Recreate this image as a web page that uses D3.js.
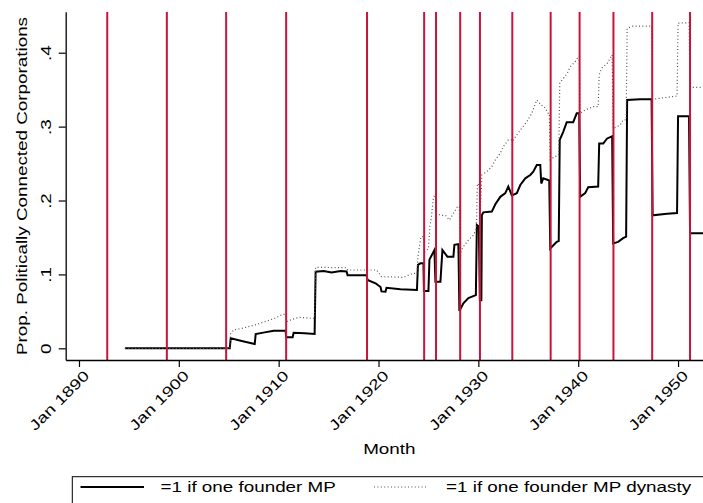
<!DOCTYPE html>
<html>
<head>
<meta charset="utf-8">
<script src="https://cdn.jsdelivr.net/npm/d3@7"></script>
<style>
  html, body { margin: 0; padding: 0; background: #fff; }
  svg { display: block; font-family: "Liberation Sans", Arial, Helvetica, sans-serif; }
</style>
</head>
<body>
<svg id="chart" width="703" height="503"></svg>
<script>
// Axis ticks
const yearTicks = [1890, 1900, 1910, 1920, 1930, 1940, 1950];
const yTicks = [0, 0.1, 0.2, 0.3, 0.4];
const yTickLabels = ["0", ".1", ".2", ".3", ".4"];

// Months (as fractional years) marked with vertical reference lines
const eventMonths = [1892.83, 1898.8, 1904.74, 1910.75, 1918.85, 1924.57, 1925.76,
  1928.18, 1930.16, 1933.4, 1937.24, 1940.14, 1943.53, 1947.41, 1951.2];

// Share of corporations with one founder who is an MP
const founderMP = [
  [1894.6, 0], [1905.1, 0], [1905.2, 0.0135], [1906.3, 0.0099], [1907.6, 0.0058],
  [1907.7, 0.0194], [1908.6, 0.0216], [1909.5, 0.0238], [1910.7, 0.0238], [1910.75, 0.0149],
  [1911.4, 0.0149], [1911.5, 0.0211], [1912.6, 0.0203], [1913.6, 0.0194], [1913.7, 0.1037],
  [1914.5, 0.1045], [1915.3, 0.1025], [1916.2, 0.1045], [1916.8, 0.104], [1916.9, 0.099],
  [1918.8, 0.099], [1918.9, 0.0925], [1919.7, 0.088], [1920.2, 0.083], [1920.3, 0.077],
  [1920.7, 0.0766], [1920.8, 0.082], [1922.2, 0.08], [1923.85, 0.079], [1923.95, 0.113],
  [1924.2, 0.115], [1924.5, 0.115], [1924.55, 0.0775], [1925.0, 0.0775], [1925.1, 0.12],
  [1925.6, 0.133], [1925.7, 0.09], [1926.2, 0.09], [1926.4, 0.133], [1926.9, 0.124],
  [1927.5, 0.124], [1927.6, 0.14], [1928.0, 0.141], [1928.1, 0.0505], [1928.5, 0.061],
  [1929.0, 0.068], [1929.75, 0.072], [1929.85, 0.167], [1930.05, 0.165], [1930.15, 0.065],
  [1930.3, 0.065], [1930.35, 0.18], [1930.5, 0.184], [1931.35, 0.185], [1931.7, 0.195],
  [1932.2, 0.205], [1932.7, 0.21], [1933.0, 0.219], [1933.35, 0.207], [1933.85, 0.21],
  [1934.2, 0.221], [1934.7, 0.23], [1935.2, 0.2345], [1935.5, 0.239], [1935.85, 0.248],
  [1936.2, 0.248], [1936.3, 0.223], [1936.5, 0.23], [1937.1, 0.227], [1937.2, 0.135],
  [1937.85, 0.144], [1938.05, 0.145], [1938.15, 0.282], [1938.5, 0.293], [1938.85, 0.306],
  [1939.5, 0.306], [1939.85, 0.318], [1940.1, 0.318], [1940.2, 0.205], [1940.7, 0.21],
  [1941.0, 0.218], [1942.0, 0.219], [1942.1, 0.277], [1942.5, 0.277], [1942.9, 0.284],
  [1943.4, 0.287], [1943.5, 0.142], [1944.0, 0.144], [1944.5, 0.149], [1944.8, 0.151],
  [1944.9, 0.336], [1946.2, 0.337], [1947.35, 0.337], [1947.45, 0.18], [1948.9, 0.182],
  [1949.9, 0.183], [1950.0, 0.314], [1951.1, 0.314], [1951.2, 0.1556], [1953.4, 0.1556]
];

// Share of corporations with one founder from an MP dynasty
const founderDynasty = [
  [1894.6, 0], [1905.1, 0], [1905.2, 0.02], [1905.5, 0.025], [1906.3, 0.027],
  [1907.6, 0.0315], [1908.6, 0.036], [1909.6, 0.0406], [1910.4, 0.046], [1910.7, 0.046],
  [1910.75, 0.036], [1911.3, 0.039], [1912.1, 0.042], [1913.3, 0.0406], [1913.6, 0.0406],
  [1913.7, 0.1096], [1916.8, 0.109], [1916.9, 0.106], [1919.8, 0.106], [1920.3, 0.097],
  [1922.5, 0.096], [1923.0, 0.099], [1923.5, 0.1015], [1923.85, 0.1015], [1923.95, 0.124],
  [1924.1, 0.138], [1924.25, 0.151], [1924.5, 0.151], [1924.6, 0.13], [1925.0, 0.135],
  [1925.15, 0.165], [1925.3, 0.178], [1925.5, 0.205], [1925.7, 0.2075], [1925.75, 0.183],
  [1926.2, 0.18], [1926.7, 0.18], [1927.1, 0.1736], [1927.6, 0.185], [1927.9, 0.1916],
  [1928.1, 0.192], [1928.2, 0.124], [1928.3, 0.133], [1928.5, 0.1375], [1929.0, 0.1465],
  [1929.5, 0.153], [1929.8, 0.162], [1929.9, 0.223], [1930.1, 0.22], [1930.2, 0.187],
  [1930.35, 0.2346], [1930.85, 0.239], [1931.35, 0.246], [1931.7, 0.255], [1932.2, 0.264],
  [1932.5, 0.273], [1933.0, 0.282], [1933.3, 0.282], [1933.4, 0.28], [1933.85, 0.289],
  [1934.35, 0.298], [1934.85, 0.3066], [1935.35, 0.318], [1935.85, 0.336], [1936.3, 0.329],
  [1936.6, 0.327], [1937.0, 0.318], [1937.1, 0.318], [1937.2, 0.255], [1937.6, 0.259],
  [1938.05, 0.2616], [1938.15, 0.3586], [1938.5, 0.365], [1938.9, 0.372], [1939.2, 0.381],
  [1939.7, 0.388], [1940.0, 0.3946], [1940.1, 0.3946], [1940.2, 0.318], [1940.7, 0.3225],
  [1941.5, 0.327], [1942.0, 0.327], [1942.1, 0.37], [1942.35, 0.379], [1942.9, 0.3857],
  [1943.2, 0.3924], [1943.4, 0.397], [1943.5, 0.2977], [1944.2, 0.302], [1944.5, 0.309],
  [1944.8, 0.309], [1944.9, 0.433], [1945.5, 0.436], [1947.35, 0.436], [1947.45, 0.337],
  [1948.9, 0.3397], [1949.9, 0.3414], [1950.0, 0.44], [1951.1, 0.4406], [1951.2, 0.353],
  [1953.4, 0.353]
];

const legendLabels = ["=1 if one founder MP", "=1 if one founder MP dynasty"];
const xTitle = "Month";
const yTitle = "Prop. Politically Connected Corporations";

// ---- layout ----
const plot = { left: 65.7, right: 713, top: 11.7, bottom: 360 };
const fontSize = 14.5;
const stretch = 1.3;            // wide lettering
const redColor = "#c8143c";

const svg = d3.select("#chart");

const x = d3.scaleLinear().domain([1888.67, 1953.5]).range([plot.left, plot.right]);
const y = d3.scaleLinear().domain([-0.0158, 0.4555]).range([plot.bottom, plot.top]);

svg.append("defs").append("clipPath").attr("id", "plotClip")
  .append("rect")
  .attr("x", plot.left).attr("y", plot.top)
  .attr("width", plot.right - plot.left).attr("height", plot.bottom - plot.top);

const area = svg.append("g").attr("clip-path", "url(#plotClip)");

const line = d3.line().x(d => x(d[0])).y(d => y(d[1]));

// solid series
area.append("path")
  .datum(founderMP)
  .attr("d", line)
  .attr("fill", "none")
  .attr("stroke", "#000")
  .attr("stroke-width", 2)
  .attr("stroke-linejoin", "miter");

// dotted series
area.append("path")
  .datum(founderDynasty)
  .attr("d", line)
  .attr("fill", "none")
  .attr("stroke", "#555")
  .attr("stroke-width", 1.2)
  .attr("stroke-dasharray", "1,2.4");

// vertical reference lines
area.selectAll("line.event")
  .data(eventMonths)
  .join("line")
  .attr("class", "event")
  .attr("x1", d => x(d)).attr("x2", d => x(d))
  .attr("y1", plot.top).attr("y2", plot.bottom)
  .attr("stroke", redColor)
  .attr("stroke-width", 2);

// ---- axes ----
const yAxis = svg.append("g")
  .attr("transform", `translate(${plot.left},0)`)
  .call(d3.axisLeft(y).tickValues(yTicks).tickSize(7).tickSizeOuter(0)
    .tickFormat((d, i) => yTickLabels[i]));
yAxis.select(".domain").attr("stroke-width", 1.3);
yAxis.selectAll(".tick line").attr("stroke-width", 1.2);
yAxis.selectAll(".tick text")
  .attr("x", null).attr("y", null).attr("dy", "0.35em")
  .attr("text-anchor", "middle")
  .attr("font-size", fontSize)
  .attr("font-family", null)
  .attr("fill", "#000")
  .attr("transform", `translate(${46.2 - plot.left},0) rotate(-90) scale(${stretch},1)`);

const xAxis = svg.append("g")
  .attr("transform", `translate(0,${plot.bottom})`)
  .call(d3.axisBottom(x).tickValues(yearTicks).tickSize(7).tickSizeOuter(0)
    .tickFormat(d => "Jan " + d));
xAxis.select(".domain").attr("stroke-width", 1.3);
xAxis.selectAll(".tick line").attr("stroke-width", 1.2);
xAxis.selectAll(".tick text")
  .attr("x", null).attr("y", null).attr("dy", "0.35em")
  .attr("text-anchor", "end")
  .attr("font-size", fontSize)
  .attr("font-family", null)
  .attr("fill", "#000")
  .attr("transform", `translate(7,13) rotate(-45) scale(${stretch},1)`);

// axis titles
svg.append("text")
  .attr("transform", `translate(389.3,454) scale(${stretch},1)`)
  .attr("text-anchor", "middle")
  .attr("font-size", fontSize)
  .text(xTitle);

svg.append("text")
  .attr("transform", `translate(27,186) rotate(-90) scale(${stretch},1)`)
  .attr("text-anchor", "middle")
  .attr("font-size", fontSize)
  .text(yTitle);

// ---- legend ----
const legend = svg.append("g");
legend.append("rect")
  .attr("x", 72.3).attr("y", 476.7)
  .attr("width", 700).attr("height", 40)
  .attr("fill", "none").attr("stroke", "#000").attr("stroke-width", 1);

const legendItems = [
  { x1: 80.5, x2: 144, tx: 160.5, stroke: "#000", width: 2, dash: null },
  { x1: 374, x2: 427, tx: 446, stroke: "#555", width: 1.2, dash: "1,2.4" }
];
legendItems.forEach((it, i) => {
  legend.append("line")
    .attr("x1", it.x1).attr("x2", it.x2).attr("y1", 487).attr("y2", 487)
    .attr("stroke", it.stroke).attr("stroke-width", it.width)
    .attr("stroke-dasharray", it.dash);
  legend.append("text")
    .attr("transform", `translate(${it.tx},492) scale(${stretch},1)`)
    .attr("font-size", fontSize)
    .text(legendLabels[i]);
});
</script>
</body>
</html>
